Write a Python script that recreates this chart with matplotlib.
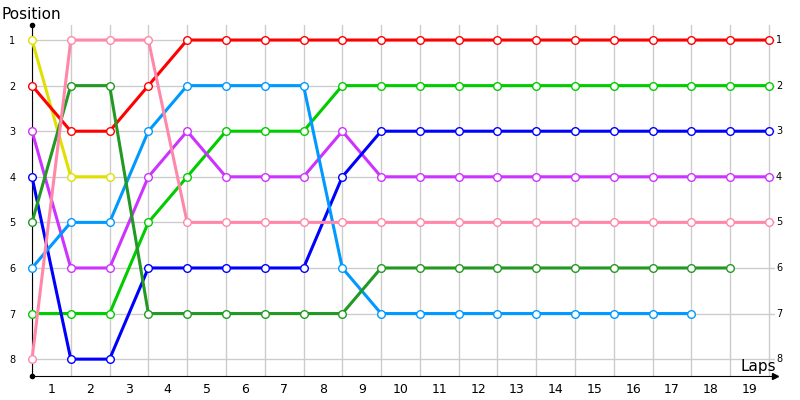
import matplotlib
matplotlib.use('Agg')
import matplotlib.pyplot as plt

# Lap index (0 = start) and position per lap for each driver
laps = list(range(20))
lap_labels = [str(i) for i in range(1, 20)]
positions = [1, 2, 3, 4, 5, 6, 7, 8]

red = [2, 3, 3, 2, 1, 1, 1, 1, 1, 1, 1, 1, 1, 1, 1, 1, 1, 1, 1, 1]
green = [7, 7, 7, 5, 4, 3, 3, 3, 2, 2, 2, 2, 2, 2, 2, 2, 2, 2, 2, 2]
blue = [4, 8, 8, 6, 6, 6, 6, 6, 4, 3, 3, 3, 3, 3, 3, 3, 3, 3, 3, 3]
purple = [3, 6, 6, 4, 3, 4, 4, 4, 3, 4, 4, 4, 4, 4, 4, 4, 4, 4, 4, 4]
pink = [8, 1, 1, 1, 5, 5, 5, 5, 5, 5, 5, 5, 5, 5, 5, 5, 5, 5, 5, 5]
darkgreen = [5, 2, 2, 7, 7, 7, 7, 7, 7, 6, 6, 6, 6, 6, 6, 6, 6, 6, 6]
lightblue = [6, 5, 5, 3, 2, 2, 2, 2, 6, 7, 7, 7, 7, 7, 7, 7, 7, 7]
yellow = [1, 4, 4]

series = [
    (yellow, '#e0e000'),
    (red, '#ff0000'),
    (green, '#00cc00'),
    (purple, '#cc33ff'),
    (blue, '#0000ff'),
    (lightblue, '#0099ff'),
    (darkgreen, '#229922'),
    (pink, '#ff88aa'),
]

fig = plt.figure(figsize=(8, 4), dpi=100)
ax = fig.add_axes([0.04, 0.06, 0.9285, 0.8775])

for vals, col in series:
    ax.plot(laps[:len(vals)], vals, '-o', color=col, lw=2.2, ms=5.5,
            mfc='white', mec=col, mew=1.0, clip_on=False, zorder=3)

ymin, ymax = 0.67, 8.37
xmax = 19.15
ax.set_xlim(0, xmax)
ax.set_ylim(ymax, ymin)

# grid on the lap points, labels between them
ax.set_xticks(laps, minor=True)
ax.set_xticks([i + 0.5 for i in range(19)])
ax.set_xticklabels(lap_labels, fontsize=9)
ax.set_yticks(positions)
ax.set_yticklabels([str(p) for p in positions], fontsize=7)
ax.tick_params(axis='x', which='both', length=0, pad=5)
ax.tick_params(axis='y', length=0, pad=12)

# right-hand position labels
for p in positions:
    ax.text(xmax + 0.03, p, str(p), fontsize=7, ha='left', va='center')

ax.grid(True, which='minor', axis='x', color='#cccccc', lw=1)
ax.grid(True, which='major', axis='y', color='#cccccc', lw=1)
ax.grid(False, which='major', axis='x')
ax.set_axisbelow(True)

for s in ['top', 'right']:
    ax.spines[s].set_visible(False)

ax.plot([0, 0], [ymin, ymax], 'ko', ms=3, clip_on=False, zorder=4)
ax.plot([xmax], [ymax], marker='>', color='black', ms=5, clip_on=False, zorder=4)

fig.text(0.039, 0.963, 'Position', fontsize=11, ha='center', va='center')
fig.text(0.948, 0.085, 'Laps', fontsize=11, ha='center', va='center')

fig.savefig('out.png', dpi=100)
